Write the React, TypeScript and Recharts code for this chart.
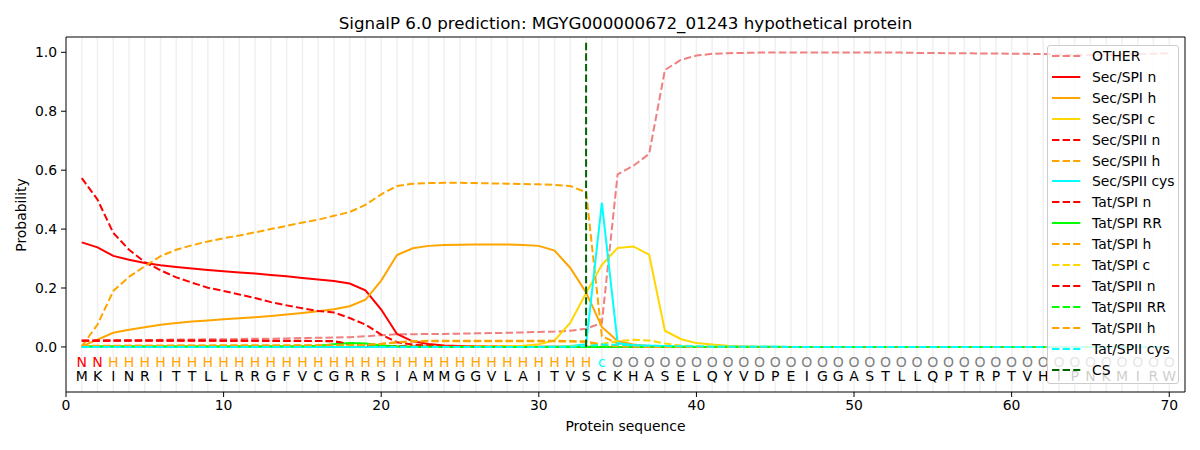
import { ComposedChart, Line, Scatter, XAxis, YAxis, ReferenceLine } from "recharts";

const FONT = "'DejaVu Sans', sans-serif";
const DASH = "7.4 3.2";

// protein sequence and the predicted region letter for each residue
const sequence = "MKINRITTLLRRGFVCGRRSIAMMGGVLAITVSCKHASELQYVDPEIGGASTLLQPTRPTVHIPNKMIRW".split("");
const regionLabels = (
	"NN" +
	"HHHHHHHHHH" + "HHHHHHHHHH" + "HHHHHHHHHH" + "H" +
	"c" +
	"OOOOOOOOOO" + "OOOOOOOOOO" + "OOOOOOOOOO" + "OOOOOO"
).split("");
const positions = sequence.map((_, i) => i + 1);

const xDomain = [0, 71];
const yDomain = [-0.153, 1.052];
const xTicks = [0, 10, 20, 30, 40, 50, 60, 70];
const yTicks = [0, 0.2, 0.4, 0.6, 0.8, 1.0];

const other = [
	0.020, 0.021, 0.022, 0.023, 0.023, 0.024, 0.025, 0.025, 0.026, 0.026,
	0.027, 0.028, 0.028, 0.029, 0.030, 0.031, 0.032, 0.033, 0.036, 0.040,
	0.043, 0.043, 0.044, 0.044, 0.045, 0.046, 0.047, 0.048, 0.049, 0.051,
	0.052, 0.055, 0.062, 0.081, 0.586, 0.615, 0.655, 0.940, 0.974, 0.989,
	0.995, 0.997, 0.998, 0.999, 0.999, 0.999, 0.999, 0.999, 0.999, 0.999,
	0.999, 0.999, 0.999, 0.998, 0.998, 0.997, 0.997, 0.996, 0.996, 0.995,
	0.995, 0.994, 0.993, 0.992, 0.991, 0.991, 0.992, 0.994, 0.995, 0.997,
];
const secSpiN = [
	0.355, 0.338, 0.309, 0.296, 0.285, 0.277, 0.271, 0.266, 0.261, 0.257,
	0.253, 0.249, 0.244, 0.240, 0.234, 0.229, 0.224, 0.215, 0.192, 0.127,
	0.044, 0.019, 0.010, 0.005, 0.003, 0.002, 0.001, 0.001, 0.001, 0.001,
	0.001, 0.001, 0.001, 0, 0, 0, 0, 0, 0, 0,
	0, 0, 0, 0, 0, 0, 0, 0, 0, 0,
	0, 0, 0, 0, 0, 0, 0, 0, 0, 0,
	0, 0, 0, 0, 0, 0, 0, 0, 0, 0,
];
const secSpiH = [
	0.002, 0.025, 0.048, 0.058, 0.067, 0.075, 0.081, 0.086, 0.090, 0.094,
	0.097, 0.101, 0.105, 0.110, 0.115, 0.121, 0.128, 0.138, 0.160, 0.225,
	0.312, 0.335, 0.343, 0.346, 0.347, 0.348, 0.348, 0.348, 0.346, 0.343,
	0.327, 0.268, 0.185, 0.068, 0.020, 0.008, 0.003, 0.001, 0.001, 0,
	0, 0, 0, 0, 0, 0, 0, 0, 0, 0,
	0, 0, 0, 0, 0, 0, 0, 0, 0, 0,
	0, 0, 0, 0, 0, 0, 0, 0, 0, 0,
];
const secSpiC = [
	0, 0, 0, 0, 0, 0, 0, 0, 0, 0,
	0, 0, 0, 0, 0, 0, 0, 0, 0, 0.001,
	0.001, 0.001, 0.001, 0.001, 0.001, 0.002, 0.002, 0.003, 0.004, 0.009,
	0.022, 0.082, 0.183, 0.279, 0.336, 0.341, 0.313, 0.055, 0.027, 0.013,
	0.008, 0.004, 0.002, 0.001, 0.001, 0, 0, 0, 0, 0,
	0, 0, 0, 0, 0, 0, 0, 0, 0, 0,
	0, 0, 0, 0, 0, 0, 0, 0, 0, 0,
];
const secSpiiN = [
	0.573, 0.500, 0.387, 0.330, 0.288, 0.260, 0.236, 0.218, 0.201, 0.190,
	0.178, 0.166, 0.152, 0.141, 0.131, 0.122, 0.117, 0.098, 0.076, 0.042,
	0.016, 0.008, 0.004, 0.002, 0.001, 0.001, 0.001, 0, 0, 0,
	0, 0, 0, 0, 0, 0, 0, 0, 0, 0,
	0, 0, 0, 0, 0, 0, 0, 0, 0, 0,
	0, 0, 0, 0, 0, 0, 0, 0, 0, 0,
	0, 0, 0, 0, 0, 0, 0, 0, 0, 0,
];
const secSpiiH = [
	0.002, 0.076, 0.190, 0.238, 0.274, 0.308, 0.330, 0.345, 0.358, 0.369,
	0.378, 0.389, 0.400, 0.411, 0.422, 0.432, 0.445, 0.458, 0.482, 0.518,
	0.546, 0.554, 0.556, 0.557, 0.557, 0.556, 0.555, 0.554, 0.553, 0.552,
	0.550, 0.546, 0.525, 0.036, 0.012, 0.005, 0.002, 0.001, 0, 0,
	0, 0, 0, 0, 0, 0, 0, 0, 0, 0,
	0, 0, 0, 0, 0, 0, 0, 0, 0, 0,
	0, 0, 0, 0, 0, 0, 0, 0, 0, 0,
];
const secSpiiCys = [
	0, 0, 0, 0, 0, 0, 0, 0, 0, 0,
	0, 0, 0, 0, 0, 0, 0, 0, 0, 0,
	0, 0, 0, 0, 0, 0, 0, 0, 0, 0,
	0.001, 0.003, 0.009, 0.489, 0.013, 0.006, 0.004, 0.003, 0.002, 0.001,
	0.001, 0.001, 0.001, 0.001, 0.001, 0, 0, 0, 0, 0,
	0, 0, 0, 0, 0, 0, 0, 0, 0, 0,
	0, 0, 0, 0, 0, 0, 0, 0, 0, 0,
];
const tatSpiN = [
	0.022, 0.022, 0.022, 0.022, 0.022, 0.022, 0.022, 0.022, 0.022, 0.021,
	0.021, 0.021, 0.021, 0.021, 0.021, 0.020, 0.020, 0.009, 0.006, 0.004,
	0.002, 0.001, 0, 0, 0, 0, 0, 0, 0, 0,
	0, 0, 0, 0, 0, 0, 0, 0, 0, 0,
	0, 0, 0, 0, 0, 0, 0, 0, 0, 0,
	0, 0, 0, 0, 0, 0, 0, 0, 0, 0,
	0, 0, 0, 0, 0, 0, 0, 0, 0, 0,
];
const tatSpiRR = [
	0.002, 0.002, 0.002, 0.002, 0.002, 0.002, 0.002, 0.002, 0.002, 0.002,
	0.002, 0.002, 0.002, 0.002, 0.002, 0.004, 0.009, 0.013, 0.012, 0.005,
	0.002, 0.001, 0.001, 0, 0, 0, 0, 0, 0, 0,
	0, 0, 0, 0, 0, 0, 0, 0, 0, 0,
	0, 0, 0, 0, 0, 0, 0, 0, 0, 0,
	0, 0, 0, 0, 0, 0, 0, 0, 0, 0,
	0, 0, 0, 0, 0, 0, 0, 0, 0, 0,
];
const tatSpiH = [
	0.003, 0.004, 0.004, 0.004, 0.004, 0.004, 0.005, 0.005, 0.005, 0.005,
	0.005, 0.005, 0.005, 0.005, 0.006, 0.006, 0.006, 0.006, 0.007, 0.011,
	0.016, 0.020, 0.021, 0.021, 0.021, 0.021, 0.021, 0.021, 0.021, 0.021,
	0.021, 0.020, 0.019, 0.008, 0.003, 0.001, 0, 0, 0, 0,
	0, 0, 0, 0, 0, 0, 0, 0, 0, 0,
	0, 0, 0, 0, 0, 0, 0, 0, 0, 0,
	0, 0, 0, 0, 0, 0, 0, 0, 0, 0,
];
const tatSpiC = [
	0, 0, 0, 0, 0, 0, 0, 0, 0, 0,
	0, 0, 0, 0, 0, 0, 0, 0, 0, 0,
	0, 0, 0, 0, 0, 0, 0, 0, 0, 0,
	0.001, 0.002, 0.004, 0.010, 0.020, 0.024, 0.022, 0.012, 0.005, 0.002,
	0.001, 0, 0, 0, 0, 0, 0, 0, 0, 0,
	0, 0, 0, 0, 0, 0, 0, 0, 0, 0,
	0, 0, 0, 0, 0, 0, 0, 0, 0, 0,
];
const tatSpiiN = [
	0.021, 0.021, 0.021, 0.021, 0.021, 0.021, 0.021, 0.021, 0.021, 0.021,
	0.021, 0.021, 0.020, 0.020, 0.020, 0.020, 0.019, 0.008, 0.005, 0.003,
	0.002, 0.001, 0, 0, 0, 0, 0, 0, 0, 0,
	0, 0, 0, 0, 0, 0, 0, 0, 0, 0,
	0, 0, 0, 0, 0, 0, 0, 0, 0, 0,
	0, 0, 0, 0, 0, 0, 0, 0, 0, 0,
	0, 0, 0, 0, 0, 0, 0, 0, 0, 0,
];
const tatSpiiRR = [
	0.001, 0.001, 0.001, 0.001, 0.001, 0.001, 0.001, 0.001, 0.001, 0.001,
	0.001, 0.001, 0.001, 0.001, 0.001, 0.003, 0.007, 0.011, 0.010, 0.004,
	0.001, 0, 0, 0, 0, 0, 0, 0, 0, 0,
	0, 0, 0, 0, 0, 0, 0, 0, 0, 0,
	0, 0, 0, 0, 0, 0, 0, 0, 0, 0,
	0, 0, 0, 0, 0, 0, 0, 0, 0, 0,
	0, 0, 0, 0, 0, 0, 0, 0, 0, 0,
];
const tatSpiiH = [
	0.003, 0.003, 0.003, 0.004, 0.004, 0.004, 0.004, 0.004, 0.004, 0.005,
	0.005, 0.005, 0.005, 0.005, 0.005, 0.005, 0.006, 0.006, 0.007, 0.010,
	0.015, 0.018, 0.019, 0.019, 0.019, 0.019, 0.019, 0.019, 0.019, 0.019,
	0.019, 0.018, 0.017, 0.007, 0.002, 0.001, 0, 0, 0, 0,
	0, 0, 0, 0, 0, 0, 0, 0, 0, 0,
	0, 0, 0, 0, 0, 0, 0, 0, 0, 0,
	0, 0, 0, 0, 0, 0, 0, 0, 0, 0,
];
const tatSpiiCys = [
	0, 0, 0, 0, 0, 0, 0, 0, 0, 0,
	0, 0, 0, 0, 0, 0, 0, 0, 0, 0,
	0, 0, 0, 0, 0, 0, 0, 0, 0, 0,
	0.001, 0.001, 0.003, 0.008, 0.007, 0.005, 0.004, 0.003, 0.002, 0.002,
	0.001, 0.001, 0.001, 0.001, 0.001, 0, 0, 0, 0, 0,
	0, 0, 0, 0, 0, 0, 0, 0, 0, 0,
	0, 0, 0, 0, 0, 0, 0, 0, 0, 0,
];

// cleavage site marker
const csPos = [33, 33];
const csProb = [0, 1.037];

const series = [
	{ name: "OTHER", values: other, color: "#F08080", dashed: true },
	{ name: "Sec/SPI n", values: secSpiN, color: "#FF0000", dashed: false },
	{ name: "Sec/SPI h", values: secSpiH, color: "#FFA500", dashed: false },
	{ name: "Sec/SPI c", values: secSpiC, color: "#FFD700", dashed: false },
	{ name: "Sec/SPII n", values: secSpiiN, color: "#FF0000", dashed: true },
	{ name: "Sec/SPII h", values: secSpiiH, color: "#FFA500", dashed: true },
	{ name: "Sec/SPII cys", values: secSpiiCys, color: "#00FFFF", dashed: false },
	{ name: "Tat/SPI n", values: tatSpiN, color: "#FF0000", dashed: true },
	{ name: "Tat/SPI RR", values: tatSpiRR, color: "#00FF00", dashed: false },
	{ name: "Tat/SPI h", values: tatSpiH, color: "#FFA500", dashed: true },
	{ name: "Tat/SPI c", values: tatSpiC, color: "#FFD700", dashed: true },
	{ name: "Tat/SPII n", values: tatSpiiN, color: "#FF0000", dashed: true },
	{ name: "Tat/SPII RR", values: tatSpiiRR, color: "#00FF00", dashed: true },
	{ name: "Tat/SPII h", values: tatSpiiH, color: "#FFA500", dashed: true },
	{ name: "Tat/SPII cys", values: tatSpiiCys, color: "#00FFFF", dashed: true },
];
const legendItems = [
	...series.map((s) => ({ name: s.name, color: s.color, dashed: s.dashed })),
	{ name: "CS", color: "#006400", dashed: true },
];

const labelColors: Record<string, string> = {
	N: "#FF0000",
	H: "#FFA500",
	c: "#00FFFF",
	O: "#808080",
};

const rows = positions.map((x, i) => {
	const row: Record<string, number> = { x };
	series.forEach((s) => {
		row[s.name] = s.values[i];
	});
	return row;
});
const csRows = csPos.map((x, i) => ({ x, cs: csProb[i] }));
const seqRows = positions.map((x, i) => ({ x, y: -0.1, t: sequence[i], c: "#000000" }));
const regionRows = positions.map((x, i) => ({
	x,
	y: -0.05,
	t: regionLabels[i],
	c: labelColors[regionLabels[i]],
}));

const letterShape = (props: any) => (
	<text
		x={props.cx}
		y={props.cy}
		textAnchor='middle'
		dominantBaseline='central'
		fill={props.payload.c}
		fontSize={14}
		fontFamily={FONT}
	>
		{props.payload.t}
	</text>
);

const Legend = () => (
	<div
		style={{
			position: "absolute",
			left: 1047,
			top: 45,
			width: 132,
			height: 339,
			boxSizing: "border-box",
			border: "1px solid #cccccc",
			borderRadius: 3,
			background: "rgba(255,255,255,0.8)",
		}}
	>
		{legendItems.map((item, i) => (
			<div
				key={item.name}
				style={{
					position: "absolute",
					left: 4,
					top: 9.7 + i * 20.96 - 10,
					height: 20,
					display: "flex",
					alignItems: "center",
					whiteSpace: "nowrap",
				}}
			>
				<svg width={29} height={6} style={{ display: "block" }}>
					<line
						x1={0}
						y1={3}
						x2={28.3}
						y2={3}
						stroke={item.color}
						strokeWidth={2}
						strokeDasharray={item.dashed ? DASH : undefined}
					/>
				</svg>
				<span style={{ marginLeft: 11, fontSize: 13.9, color: "#000", lineHeight: "20px" }}>
					{item.name}
				</span>
			</div>
		))}
	</div>
);

const tickStyle = { fill: "#000", fontSize: 13.9, fontFamily: FONT };

const App = () => {
	return (
		<div
			style={{
				position: "absolute",
				left: 0,
				top: 0,
				width: 1200,
				height: 450,
				background: "#fff",
				fontFamily: FONT,
			}}
		>
			<ComposedChart
				width={1200}
				height={450}
				data={rows}
				margin={{ top: 37, right: 15, bottom: 0, left: 0 }}
			>
				<XAxis
					dataKey='x'
					type='number'
					domain={xDomain}
					ticks={xTicks}
					allowDataOverflow
					height={58}
					tickSize={5}
					tickMargin={3}
					stroke='#000'
					tick={tickStyle}
				/>
				<YAxis
					type='number'
					domain={yDomain}
					ticks={yTicks}
					allowDataOverflow
					width={66}
					tickSize={5}
					tickMargin={4}
					stroke='#000'
					tick={tickStyle}
					tickFormatter={(v) => v.toFixed(1)}
				/>
				{positions.map((p) => (
					<ReferenceLine key={p} x={p} stroke='#f0f0f0' strokeWidth={1.5} />
				))}
				{/* top and right frame */}
				<ReferenceLine y={yDomain[1]} stroke='#000' strokeWidth={1} />
				<ReferenceLine x={xDomain[1]} stroke='#000' strokeWidth={1} />
				{series.map((s) => (
					<Line
						key={s.name}
						type='linear'
						dataKey={s.name}
						stroke={s.color}
						strokeWidth={2}
						strokeDasharray={s.dashed ? DASH : undefined}
						dot={false}
						activeDot={false}
						isAnimationActive={false}
					/>
				))}
				<Line
					data={csRows}
					type='linear'
					dataKey='cs'
					stroke='#006400'
					strokeWidth={2}
					strokeDasharray={DASH}
					dot={false}
					activeDot={false}
					isAnimationActive={false}
				/>
				<Scatter data={regionRows} dataKey='y' shape={letterShape} isAnimationActive={false} />
				<Scatter data={seqRows} dataKey='y' shape={letterShape} isAnimationActive={false} />
			</ComposedChart>

			<div
				style={{
					position: "absolute",
					left: 625.5,
					top: 23,
					transform: "translate(-50%, -50%)",
					fontSize: 16.7,
					whiteSpace: "nowrap",
					lineHeight: 1,
				}}
			>
				SignalP 6.0 prediction: MGYG000000672_01243 hypothetical protein
			</div>
			<div
				style={{
					position: "absolute",
					left: 625.5,
					top: 427,
					transform: "translate(-50%, -50%)",
					fontSize: 13.9,
					whiteSpace: "nowrap",
					lineHeight: 1,
				}}
			>
				Protein sequence
			</div>
			<div
				style={{
					position: "absolute",
					left: 22,
					top: 214.5,
					transform: "translate(-50%, -50%) rotate(-90deg)",
					fontSize: 13.9,
					whiteSpace: "nowrap",
					lineHeight: 1,
				}}
			>
				Probability
			</div>
			<Legend />
		</div>
	);
};

export default App;
